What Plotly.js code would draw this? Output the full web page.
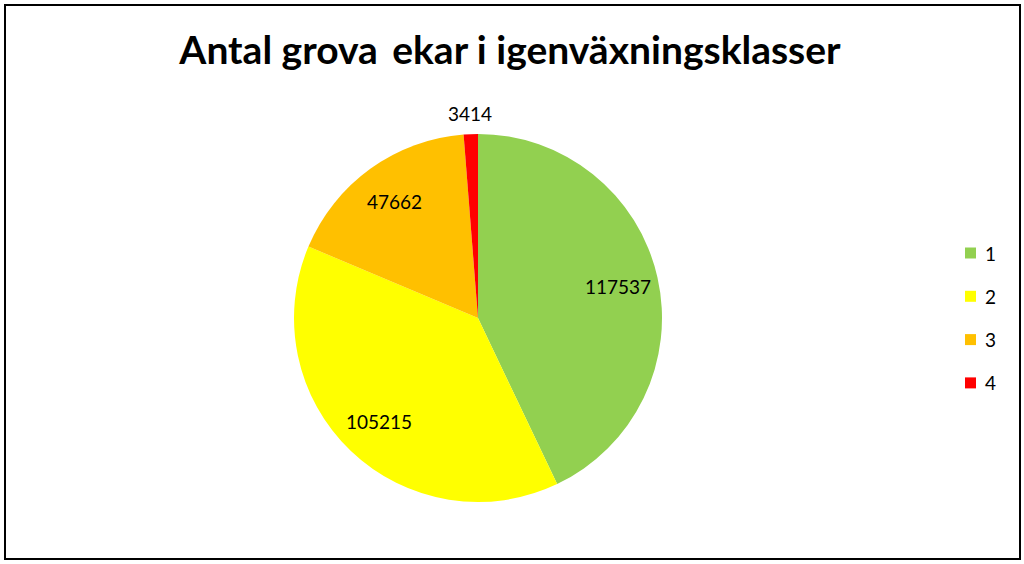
<!DOCTYPE html>
<html>
<head>
<meta charset="utf-8">
<script src="https://cdn.plot.ly/plotly-3.0.1.min.js"></script>
<style>
  html, body { margin: 0; padding: 0; background: #fff; }
  #wrap { position: relative; width: 1024px; height: 564px; }
  #chart { width: 1024px; height: 564px; }
  #frame { position: absolute; left: 4px; top: 4px; width: 1013px; height: 552px;
           border: 2px solid #000; pointer-events: none; }
</style>
</head>
<body>
<div id="wrap">
  <div id="chart"></div>
  <div id="frame"></div>
</div>
<script>
const categories = ['1', '2', '3', '4'];
const values = [117537, 105215, 47662, 3414];
const colors = ['#92D050', '#FFFF00', '#FFC000', '#FF0000'];
const titleText = 'Antal grova&#8201; ekar i igenväxningsklasser';

const fontFam = 'Lato, "Open Sans", sans-serif';

// pie geometry (pixels) -> domain
const W = 1024, H = 564;
const cx = 478, cy = 318, R = 184;

const trace = {
  type: 'pie',
  labels: categories,
  values: values,
  sort: false,
  direction: 'clockwise',
  rotation: 0,
  marker: { colors: colors, line: { width: 0 } },
  textinfo: 'none',
  hoverinfo: 'label+value+percent',
  showlegend: false,
  domain: { x: [(cx - R) / W, (cx + R) / W], y: [(H - cy - R) / H, (H - cy + R) / H] }
};

const shapes = [];
const annotations = [];

// data labels placed at each slice's mid-angle
const total = values.reduce((a, b) => a + b, 0);
let cum = 0;
values.forEach((v, i) => {
  const mid = (cum + v / 2) / total * 2 * Math.PI;
  cum += v;
  const outside = v / total < 0.03;
  const r = outside ? R * 1.11 : R * 0.78;
  const px = cx + r * Math.sin(mid), py = cy - r * Math.cos(mid);
  annotations.push({
    xref: 'paper', yref: 'paper', x: px / W, y: 1 - py / H,
    xanchor: 'center', yanchor: 'middle', showarrow: false,
    text: String(v), font: { family: fontFam, size: 19, color: '#000' }
  });
});

// legend built from the category/colour arrays
const legTop = 1 - 253 / H, legStep = 43.3 / H;
categories.forEach((c, i) => {
  const yc = legTop - i * legStep;
  shapes.push({
    type: 'rect', xref: 'paper', yref: 'paper',
    x0: 965 / W, x1: 976 / W, y0: yc - 5.5 / H, y1: yc + 5.5 / H,
    fillcolor: colors[i], line: { width: 0 }
  });
  annotations.push({
    xref: 'paper', yref: 'paper', x: 983 / W, y: yc,
    xanchor: 'left', yanchor: 'middle', showarrow: false,
    text: c, font: { family: fontFam, size: 19, color: '#000' }
  });
});

const layout = {
  width: W, height: H,
  margin: { l: 0, r: 0, t: 0, b: 0 },
  paper_bgcolor: '#fff',
  title: {
    text: '<b>' + titleText + '</b>',
    font: { family: fontFam, size: 39, color: '#000' },
    x: 510 / W, xref: 'paper', xanchor: 'center',
    y: 1 - 50 / H, yref: 'container', yanchor: 'middle'
  },
  shapes: shapes,
  annotations: annotations
};

Plotly.newPlot('chart', [trace], layout, { displayModeBar: false });
</script>
</body>
</html>
